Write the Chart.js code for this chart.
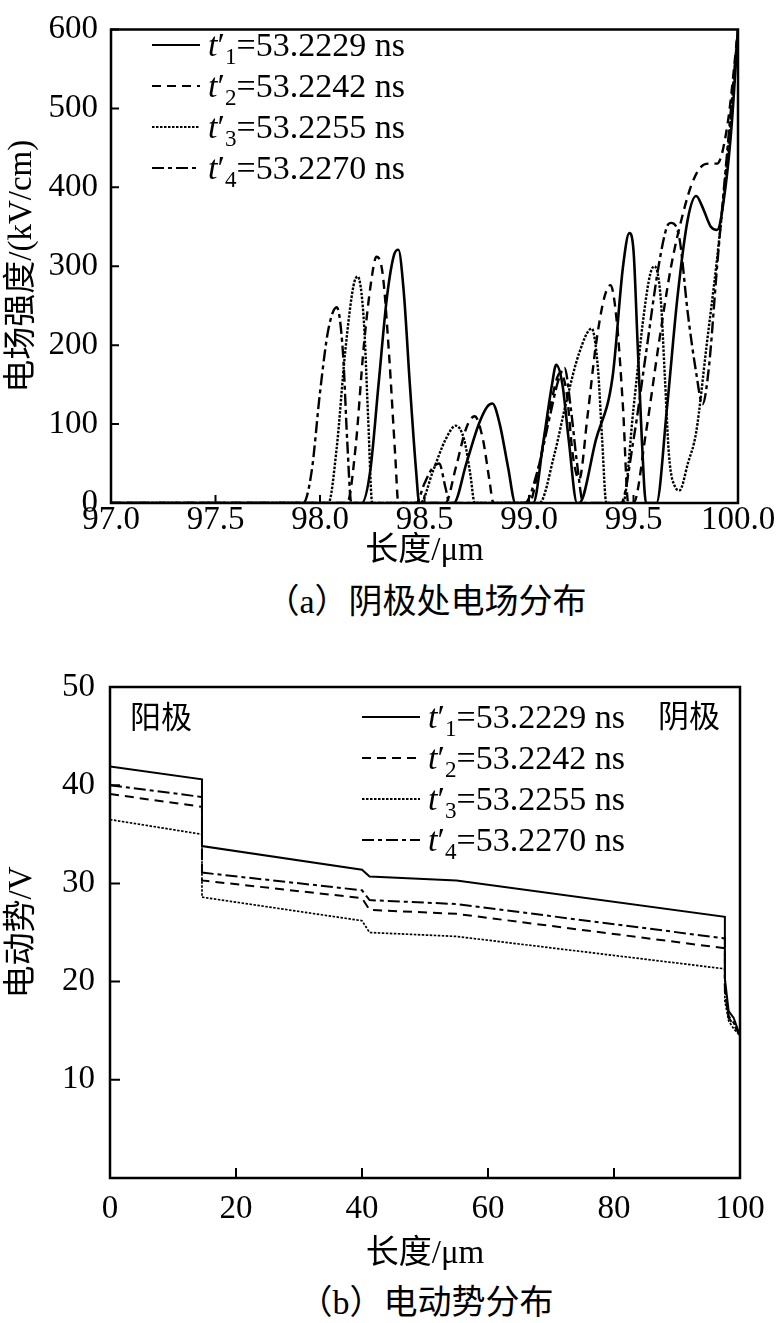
<!DOCTYPE html>
<html>
<head>
<meta charset="utf-8">
<script src="https://cdn.jsdelivr.net/npm/chart.js@4.4.1/dist/chart.umd.min.js"></script>
<style>
body { margin: 0; background: #fff; }
#page { position: relative; width: 780px; height: 1323px; overflow: hidden; color: #000;
  font-family: 'Liberation Serif', 'Noto Sans CJK SC', serif; }
canvas { position: absolute; left: 0; }
.cap { position: absolute; left: 111px; width: 630px; text-align: center; font-size: 34px; line-height: 40px; }
.legend { position: absolute; font-size: 34px; }
.legend .row { height: 41px; display: flex; align-items: center; white-space: nowrap; }
.legend svg { margin-right: 8px; }
.legend sub { font-size: 0.68em; vertical-align: -0.35em; line-height: 0; }
.note { position: absolute; font-size: 31px; line-height: 40px; font-family: 'Noto Sans CJK SC', sans-serif; }
</style>
</head>
<body>
<div id="page">
  <canvas id="chartA" width="780" height="580" style="top:0"></canvas>
  <canvas id="chartB" width="780" height="640" style="top:640px"></canvas>
  <div class="cap" style="top:582px">（a）阴极处电场分布</div>
  <div class="cap" style="top:1283px">（b）电动势分布</div>
  <div class="legend" id="legA" style="left:152px; top:24px"></div>
  <div class="legend" id="legB" style="left:362px; top:696px"></div>
  <div class="note" style="left:130px; top:695px">阳极</div>
  <div class="note" style="left:658px; top:694px">阴极</div>
</div>
<script>
// (a) electric field near the cathode, kV/cm vs length in um
var aX1 = [97, 98.2, 98.24, 98.28, 98.32, 98.355, 98.375, 98.40, 98.43, 98.46, 98.475, 98.64, 98.70, 98.76, 98.80, 98.825, 98.86, 98.90, 98.935, 99.02, 99.07, 99.11, 99.13, 99.16, 99.19, 99.23, 99.24, 99.32, 99.40, 99.45, 99.48, 99.50, 99.52, 99.54, 99.56, 99.61, 99.66, 99.71, 99.76, 99.80, 99.83, 99.87, 99.90, 99.94, 99.97, 100];
var aY1 = [0, 0, 40, 150, 260, 315, 321, 270, 150, 40, 0, 0, 50, 100, 122, 126, 100, 45, 0, 0, 80, 150, 175, 150, 80, 0, 0, 80, 160, 300, 342, 320, 200, 80, 0, 0, 120, 260, 360, 389, 375, 350, 346, 400, 480, 600];

var aX2 = [97, 98.13, 98.17, 98.21, 98.25, 98.27, 98.30, 98.33, 98.36, 98.375, 98.60, 98.65, 98.70, 98.74, 98.78, 98.81, 98.83, 99.00, 99.05, 99.10, 99.15, 99.18, 99.21, 99.24, 99.28, 99.32, 99.36, 99.39, 99.42, 99.45, 99.475, 99.50, 99.56, 99.62, 99.68, 99.74, 99.78, 99.82, 99.86, 99.90, 99.95, 100];
var aY2 = [0, 0, 70, 200, 290, 312, 290, 190, 60, 0, 0, 45, 95, 110, 80, 30, 0, 0, 50, 120, 165, 140, 60, 30, 110, 200, 260, 276, 230, 120, 0, 0, 90, 200, 300, 370, 405, 425, 430, 430, 480, 600];

var aX3 = [97, 98.04, 98.08, 98.12, 98.16, 98.18, 98.21, 98.23, 98.25, 98.48, 98.54, 98.60, 98.65, 98.69, 98.72, 98.74, 99.05, 99.12, 99.18, 99.24, 99.30, 99.33, 99.35, 99.37, 99.45, 99.50, 99.55, 99.58, 99.60, 99.63, 99.65, 99.67, 99.70, 99.72, 99.76, 99.80, 99.85, 99.90, 99.95, 100];
var aY3 = [0, 0, 70, 190, 275, 287, 230, 110, 0, 0, 40, 80, 98, 80, 35, 0, 0, 60, 130, 190, 221, 170, 80, 0, 0, 120, 240, 290, 300, 260, 160, 60, 20, 16, 50, 90, 200, 310, 440, 600];

var aX4 = [97, 97.92, 97.96, 98.00, 98.04, 98.08, 98.11, 98.13, 98.15, 98.46, 98.50, 98.54, 98.57, 98.60, 98.62, 98.98, 99.04, 99.10, 99.14, 99.17, 99.20, 99.23, 99.26, 99.44, 99.50, 99.56, 99.62, 99.66, 99.68, 99.72, 99.76, 99.80, 99.83, 99.86, 99.90, 99.95, 100];
var aY4 = [0, 0, 40, 140, 220, 248, 190, 80, 0, 0, 25, 45, 50, 20, 0, 0, 40, 110, 155, 171, 120, 50, 0, 0, 80, 190, 300, 350, 355, 335, 240, 165, 125, 170, 300, 450, 600];

// (b) electromotive force, V vs length in um
var bX = [0, 14.6, 14.6, 40, 41.2, 55, 97.6, 97.6, 98.2, 99, 100];
var bY1 = [41.9, 40.6, 33.8, 31.4, 30.7, 30.3, 26.6, 20.3, 17.0, 16.3, 14.5];
var bY2 = [39.1, 37.8, 30.3, 28.5, 27.3, 26.9, 23.4, 19.0, 16.3, 15.6, 14.5];
var bY3 = [36.5, 35.0, 28.6, 26.2, 25.0, 24.6, 21.3, 18.0, 16.0, 15.2, 14.5];
var bY4 = [40.0, 38.8, 31.1, 29.3, 28.3, 27.9, 24.4, 19.5, 16.5, 15.8, 14.5];

var legendTimes = ['53.2229', '53.2242', '53.2255', '53.2270'];
var dashes = [[], [9, 6], [2.5, 1.5], [12, 4, 4, 4]];

var serif = "'Liberation Serif', 'Noto Sans CJK SC', serif";

function series(xs, ys, dash, width, smooth) {
	return {
		data: xs.map(function(x, i) { return { x: x, y: ys[i] }; }),
		borderColor: '#000',
		borderWidth: width,
		borderDash: dash,
		pointRadius: 0,
		fill: false,
		tension: smooth ? 0.25 : 0,
		cubicInterpolationMode: smooth ? 'monotone' : 'default'
	};
}

// box round the plot area plus tick marks pointing inwards
var frame = {
	id: 'frame',
	afterDraw: function(chart, args, opts) {
		var a = chart.chartArea, ctx = chart.ctx;
		var sx = chart.scales.x, sy = chart.scales.y;
		ctx.save();
		ctx.strokeStyle = '#000';
		ctx.lineWidth = 2.5;
		ctx.strokeRect(a.left, a.top, a.right - a.left, a.bottom - a.top);
		ctx.lineWidth = 2;
		ctx.beginPath();
		sx.ticks.forEach(function(t) {
			var px = sx.getPixelForValue(t.value);
			ctx.moveTo(px, a.bottom);
			ctx.lineTo(px, a.bottom - opts.len);
		});
		sy.ticks.forEach(function(t) {
			var py = sy.getPixelForValue(t.value);
			ctx.moveTo(a.left, py);
			ctx.lineTo(a.left + opts.len, py);
		});
		ctx.stroke();
		ctx.restore();
	}
};

function axis(min, max, step, fmt, pad, title, titlePad, fit) {
	return {
		type: 'linear', min: min, max: max,
		ticks: { stepSize: step, callback: fmt, color: '#000', padding: pad, autoSkip: false, maxRotation: 0,
			font: { family: serif, size: 33, lineHeight: 1 } },
		grid: { display: false, drawTicks: false },
		border: { display: false },
		title: { display: true, text: title, color: '#000', padding: titlePad,
			font: { family: serif, size: 33, lineHeight: 1.2 } },
		afterFit: fit
	};
}

new Chart(document.getElementById('chartA'), {
	type: 'line',
	data: { datasets: [
		series(aX1, aY1, dashes[0], 2.6, true),
		series(aX2, aY2, dashes[1], 2.4, true),
		series(aX3, aY3, dashes[2], 2.4, true),
		series(aX4, aY4, dashes[3], 2.4, true)
	] },
	options: {
		responsive: false, animation: false,
		layout: { padding: { left: 0, right: 42, top: 12, bottom: 0 } },
		plugins: { legend: { display: false }, tooltip: { enabled: false }, frame: { len: 8 } },
		scales: {
			x: axis(97, 100, 0.5, function(v) { return v.toFixed(1); }, 1, '长度/μm', { top: 0, bottom: 9 },
				function(s) { s.height = 77; }),
			y: axis(0, 600, 100, function(v) { return v; }, 13, '电场强度/(kV/cm)', { top: 3, bottom: 0 },
				function(s) { s.width = 111; })
		}
	},
	plugins: [frame]
});

new Chart(document.getElementById('chartB'), {
	type: 'line',
	data: { datasets: [
		series(bX, bY1, dashes[0], 2, false),
		series(bX, bY2, dashes[1], 2, false),
		series(bX, bY3, dashes[2], 1.7, false),
		series(bX, bY4, dashes[3], 2, false)
	] },
	options: {
		responsive: false, animation: false,
		layout: { padding: { left: 0, right: 40, top: 47, bottom: 0 } },
		plugins: { legend: { display: false }, tooltip: { enabled: false }, frame: { len: 10 } },
		scales: {
			x: axis(0, 100, 20, function(v) { return v; }, 15, '长度/μm', { top: 0, bottom: 6 },
				function(s) { s.height = 102; }),
			y: axis(0, 50, 10, function(v) { return v === 0 ? '' : v; }, 15, '电动势/V', { top: 3, bottom: 0 },
				function(s) { s.width = 110; })
		}
	},
	plugins: [frame]
});

// legends with sample line, italic t, prime and subscript
function buildLegend(id, lineW) {
	var html = '';
	legendTimes.forEach(function(t, i) {
		html += '<div class="row"><svg width="' + lineW + '" height="6"><line x1="0" y1="3" x2="' + lineW +
			'" y2="3" stroke="#000" stroke-width="1.8" stroke-dasharray="' + (dashes[i].join(' ') || 'none') +
			'"/></svg><span><i>t</i>′<sub>' + (i + 1) + '</sub>=' + t + ' ns</span></div>';
	});
	document.getElementById(id).innerHTML = html;
}
buildLegend('legA', 48);
buildLegend('legB', 58);
</script>
</body>
</html>
